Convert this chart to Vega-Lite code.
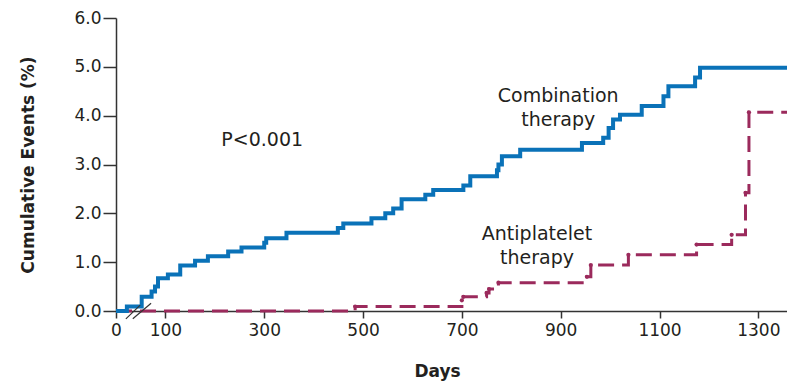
{
  "$schema": "https://vega.github.io/schema/vega-lite/v6.json",
  "autosize": {"type": "none"},
  "padding": {"left": 116, "top": 18, "right": 0, "bottom": 72},
  "width": 671,
  "height": 293,
  "background": "white",
  "config": {
    "view": {"stroke": null},
    "font": "DejaVu Sans",
    "axis": {
      "grid": false,
      "domainColor": "#333333",
      "domainWidth": 1.5,
      "tickColor": "#333333",
      "tickWidth": 1.5,
      "labelFont": "DejaVu Sans",
      "labelFontSize": 17,
      "labelColor": "#231f20",
      "titleFont": "DejaVu Sans",
      "titleFontWeight": "bold",
      "titleFontSize": 17,
      "titleColor": "#231f20"
    }
  },
  "datasets": {
    "combo": [
      {"day": 0, "pct": 0},
      {"day": 22, "pct": 0.09},
      {"day": 52, "pct": 0.29},
      {"day": 72, "pct": 0.4},
      {"day": 79, "pct": 0.5},
      {"day": 85, "pct": 0.67},
      {"day": 105, "pct": 0.75},
      {"day": 130, "pct": 0.93},
      {"day": 160, "pct": 1.03},
      {"day": 186, "pct": 1.12},
      {"day": 227, "pct": 1.22},
      {"day": 254, "pct": 1.3},
      {"day": 300, "pct": 1.4},
      {"day": 304, "pct": 1.49},
      {"day": 345, "pct": 1.6},
      {"day": 449, "pct": 1.7},
      {"day": 460, "pct": 1.79},
      {"day": 517, "pct": 1.9},
      {"day": 545, "pct": 2.0},
      {"day": 561, "pct": 2.1},
      {"day": 578, "pct": 2.29},
      {"day": 626, "pct": 2.38},
      {"day": 642, "pct": 2.48},
      {"day": 703, "pct": 2.57},
      {"day": 717, "pct": 2.76},
      {"day": 771, "pct": 2.88},
      {"day": 774, "pct": 3.0},
      {"day": 781, "pct": 3.17},
      {"day": 818, "pct": 3.3},
      {"day": 943, "pct": 3.44},
      {"day": 986, "pct": 3.55},
      {"day": 997, "pct": 3.75},
      {"day": 1006, "pct": 3.92},
      {"day": 1020, "pct": 4.02},
      {"day": 1064, "pct": 4.2},
      {"day": 1108, "pct": 4.4},
      {"day": 1118, "pct": 4.6},
      {"day": 1172, "pct": 4.78},
      {"day": 1182, "pct": 4.98},
      {"day": 1358, "pct": 4.98}
    ],
    "anti": [
      {"day": 0, "pct": 0},
      {"day": 484, "pct": 0.09},
      {"day": 700, "pct": 0.22},
      {"day": 703, "pct": 0.29},
      {"day": 750, "pct": 0.37},
      {"day": 755, "pct": 0.45},
      {"day": 774, "pct": 0.58},
      {"day": 953, "pct": 0.7},
      {"day": 961, "pct": 0.94},
      {"day": 1037, "pct": 1.15},
      {"day": 1175, "pct": 1.36},
      {"day": 1246, "pct": 1.56},
      {"day": 1274, "pct": 2.42},
      {"day": 1281, "pct": 4.07},
      {"day": 1358, "pct": 4.07}
    ],
    "slashes": [
      {"d1": 20, "p1": -0.16, "d2": 49, "p2": 0.12},
      {"d1": 34, "p1": -0.16, "d2": 71, "p2": 0.16}
    ],
    "notes": [
      {"day": 296, "pct": 3.51, "txt": ["P<0.001"]},
      {"day": 895, "pct": 4.4, "txt": ["Combination", "therapy"]},
      {"day": 852, "pct": 1.58, "txt": ["Antiplatelet", "therapy"]}
    ]
  },
  "layer": [
    {
      "data": {"name": "anti"},
      "mark": {"type": "line", "interpolate": "step-after", "color": "#9b2a5c", "strokeWidth": 3, "strokeDash": [16, 8]},
      "encoding": {
        "x": {"field": "day", "type": "quantitative", "scale": {"domain": [0, 1358], "nice": false},
          "axis": {"values": [0, 100, 300, 500, 700, 900, 1100, 1300], "format": "d", "title": "Days", "tickSize": 7, "labelPadding": 4, "titleX": 321, "titlePadding": 25, "labelFlush": false}},
        "y": {"field": "pct", "type": "quantitative", "scale": {"domain": [0, 6], "nice": false},
          "axis": {"values": [0, 1, 2, 3, 4, 5, 6], "format": ".1f", "title": "Cumulative Events (%)", "tickSize": 13, "labelPadding": 2, "titlePadding": 36}}
      }
    },
    {
      "data": {"name": "anti"},
      "transform": [{"filter": "datum.day > 0 && datum.day < 1358"}],
      "mark": {"type": "circle", "color": "#9b2a5c", "size": 18, "opacity": 1},
      "encoding": {
        "x": {"field": "day", "type": "quantitative"},
        "y": {"field": "pct", "type": "quantitative"}
      }
    },
    {
      "data": {"name": "combo"},
      "mark": {"type": "line", "interpolate": "step-after", "color": "#0a72b8", "strokeWidth": 4},
      "encoding": {
        "x": {"field": "day", "type": "quantitative"},
        "y": {"field": "pct", "type": "quantitative"}
      }
    },
    {
      "data": {"name": "slashes"},
      "mark": {"type": "rule", "color": "#333333", "strokeWidth": 1.2},
      "encoding": {
        "x": {"field": "d1", "type": "quantitative"},
        "y": {"field": "p1", "type": "quantitative"},
        "x2": {"field": "d2"},
        "y2": {"field": "p2"}
      }
    },
    {
      "data": {"name": "notes"},
      "mark": {"type": "text", "font": "DejaVu Sans", "fontSize": 19, "color": "#231f20", "lineHeight": 24, "align": "center", "baseline": "middle"},
      "encoding": {
        "x": {"field": "day", "type": "quantitative"},
        "y": {"field": "pct", "type": "quantitative"},
        "text": {"field": "txt"}
      }
    }
  ]
}
